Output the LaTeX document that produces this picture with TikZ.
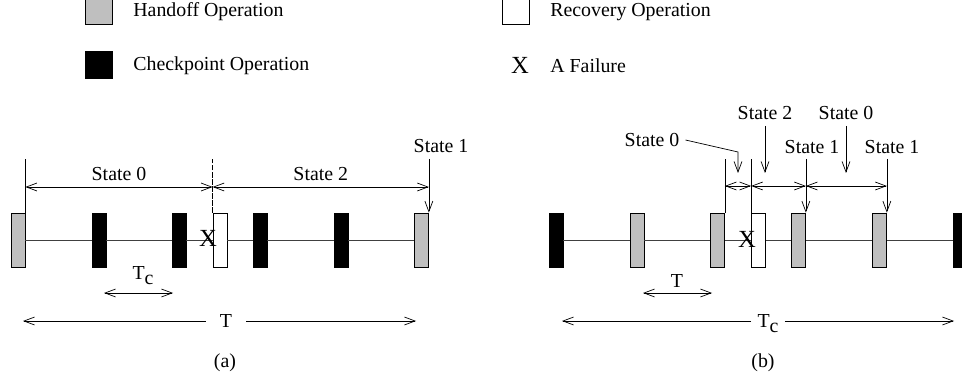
\documentclass[tikz,border=0pt]{standalone}
\usepackage{fontspec}
\setmainfont{Liberation Serif}
\usepackage{tikz}
\usetikzlibrary{calc}
\usetikzlibrary{positioning}
\usetikzlibrary{arrows.meta}
\definecolor{handoffgray}{gray}{0.75}
\newcommand{\tcap}{T\raisebox{-0.55ex}{c}}
\tikzset{
	>={Straight Barb[length=6pt,width=4.5pt]},
	opbox/.style={
		rectangle,
		draw=black, thin,
		inner sep=0pt,
		minimum width=0.28cm,
		minimum height=1.08cm},
	handoff/.style={opbox, fill=handoffgray},
	ckpt/.style={opbox, fill=black},
	recov/.style={opbox, fill=white},
	legbox/.style={opbox, minimum width=0.54cm, minimum height=0.54cm},
	tline/.style={draw, thin, black!75},
	dimline/.style={draw, thin, <->},
	fail/.style={font=\fontsize{14}{16}\selectfont, inner sep=0pt},
	legtext/.style={anchor=west, inner sep=0pt},
}

\begin{document}
\begin{tikzpicture}
	[x=0.02cm, y=-0.02cm, font=\fontsize{11.3}{13.5}\selectfont]
	\useasboundingbox (0,0) rectangle (962,381);
	% legend
	\node[legbox, fill=handoffgray] (lgHand) at (98.5,10.5) {};
	\node[legbox, fill=black] (lgCkpt) at (98.5,64.5) {};
	\node[legbox, fill=white] (lgRec) at (515.5,10.5) {};
	\node[fail] (lgFail) at (520,65) {X};
	\node[legtext] (txtHand) at (133,12) {Handoff Operation};
	\node[legtext] (txtCkpt) at (133,66) {Checkpoint Operation};
	\node[legtext] (txtRec) at (550,12) {Recovery Operation};
	\node[legtext] (txtFail) at (550,66) {A Failure};
	
	% (a)
	\node[handoff] (a1) at (18,240) {};
	\node[ckpt] (a2) at (99,240) {};
	\node[ckpt] (a3) at (179,240) {};
	\node[recov] (a4) at (220,240) {};
	\node[ckpt] (a5) at (260,240) {};
	\node[ckpt] (a6) at (341,240) {};
	\node[handoff] (a7) at (421.5,240) {};
	\draw[tline] (a1) -- (a2) -- (a3) -- (a4) -- (a5) -- (a6) -- (a7);
	\node[fail] (xa) at (208,238) {X};
	\coordinate (topa) at (0,159);
	\coordinate (dima) at (0,187);
	\draw[thin] (a1.north east) -- (a1.north east |- topa);
	\draw[thin, dash pattern=on 3pt off 1pt] (a4.north west) -- (a4.north west |- topa);
	\draw[dimline] (a1.north east |- dima) -- (a4.north west |- dima) node[midway, above] (s0a) {State 0};
	\draw[dimline] (a4.north west |- dima) -- (a7.north east |- dima) node[midway, above] (s2a) {State 2};
	\node (s1a) at (441,146) {State 1};
	\draw[->] (a7.north east |- topa) -- (a7.north east);
	
	\coordinate (tcA1) at (104,293);
	\coordinate (tcA2) at (173,293);
	\draw[dimline] (tcA1) -- (tcA2);
	\node[anchor=base, inner sep=0pt] (tcA) at (143,279) {\tcap};
	\coordinate (bigA1) at (23,321);
	\coordinate (bigA2) at (416,321);
	\node[anchor=base, inner ysep=0pt, inner xsep=8pt] (tA) at (226,327) {T};
	\draw[->] (tA.west |- bigA1) -- (bigA1);
	\draw[->] (tA.east |- bigA2) -- (bigA2);
	\node[anchor=base] (capA) at (225,367) {(a)};
	
	% (b)
	\node[ckpt] (b1) at (556,240) {};
	\node[handoff] (b2) at (637,240) {};
	\node[handoff] (b3) at (717.5,240) {};
	\node[recov] (b4) at (758.5,240) {};
	\node[handoff] (b5) at (798.5,240) {};
	\node[handoff] (b6) at (879.5,240) {};
	\node[ckpt] (b7) at (960,240) {};
	\draw[tline] (b1) -- (b2) -- (b3) -- (b4) -- (b5) -- (b6) -- (b7);
	\node[fail] (xb) at (747,239) {X};
	\coordinate (topb) at (0,159);
	\coordinate (dimb) at (0,186);
	\coordinate (tipb) at (0,173);
	\draw[thin] (b3.north east) -- (b3.north east |- topb);
	\draw[thin] (b4.north west) -- (b4.north west |- topb);
	\draw[dimline] (b3.north east |- dimb) -- (b4.north west |- dimb);
	\draw[dimline] (b4.north west |- dimb) -- (b5.north east |- dimb);
	\draw[dimline] (b5.north east |- dimb) -- (b6.north east |- dimb);
	
	\node (s0b) at (652,140) {State 0};
	\coordinate (bend) at (738,152);
	\draw[->] (s0b.east) -- (bend) -- (bend |- tipb);
	\node (s2b) at (765,113) {State 2};
	\draw[->] (s2b.south) -- (s2b.south |- tipb);
	\node (s0c) at (846,113) {State 0};
	\draw[->] (s0c.south) -- (s0c.south |- tipb);
	\node (s1b) at (812,147) {State 1};
	\draw[->] (b5.north east |- topb) -- (b5.north east);
	\node (s1c) at (892,147) {State 1};
	\draw[->] (b6.north east |- topb) -- (b6.north east);
	
	\coordinate (tB1) at (643,293);
	\coordinate (tB2) at (712,293);
	\draw[dimline] (tB1) -- (tB2);
	\node[anchor=base, inner sep=0pt] (tB) at (677,287) {T};
	\coordinate (bigB1) at (562,321);
	\coordinate (bigB2) at (954,321);
	\node[anchor=base, inner ysep=0pt, inner xsep=3.5pt] (tcB) at (768,327) {\tcap};
	\draw[->] (tcB.west |- bigB1) -- (bigB1);
	\draw[->] (tcB.east |- bigB2) -- (bigB2);
	\node[anchor=base] (capB) at (763,367) {(b)};
\end{tikzpicture}
\end{document}
